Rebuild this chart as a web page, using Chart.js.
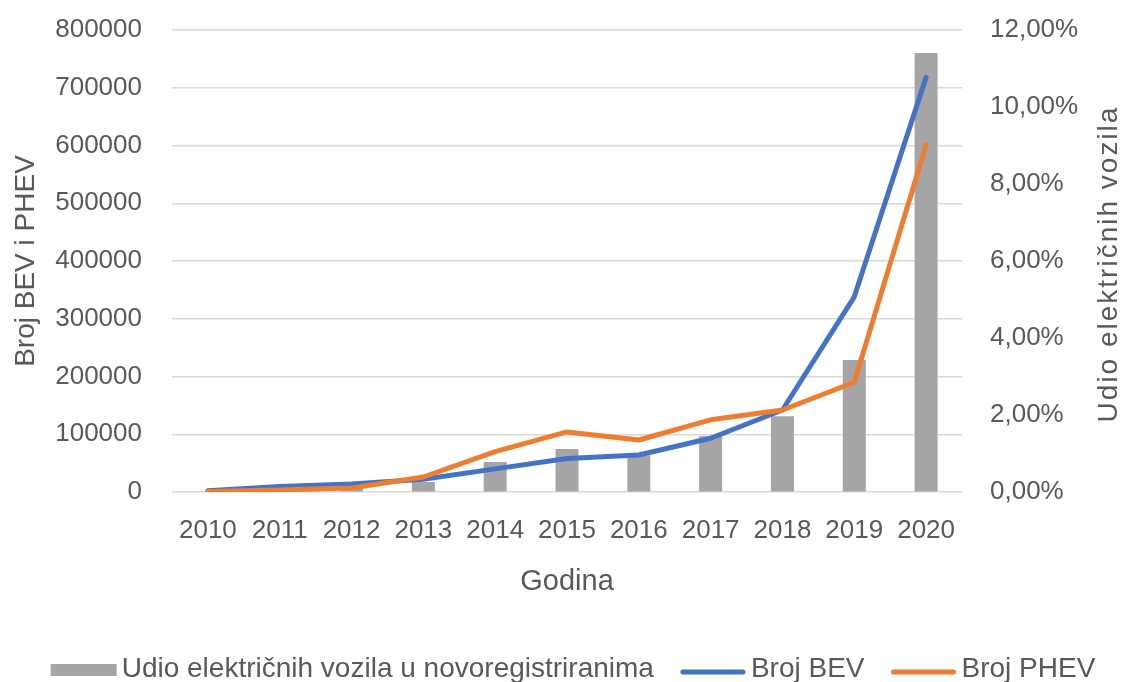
<!DOCTYPE html>
<html>
<head>
<meta charset="utf-8">
<script src="https://cdn.jsdelivr.net/npm/chart.js@4"></script>
<style>
html,body{margin:0;padding:0;background:#ffffff;}
#wrap{width:1126px;height:682px;position:relative;}
</style>
</head>
<body>
<div id="wrap"><canvas id="c" width="1126" height="682"></canvas></div>
<script>
// ---- data ----
const years = ['2010','2011','2012','2013','2014','2015','2016','2017','2018','2019','2020'];
const shareEV = [0.01, 0.03, 0.08, 0.26, 0.78, 1.12, 0.95, 1.45, 1.97, 3.43, 11.4]; // % of new registrations
const bevCount = [2000, 9500, 14000, 22000, 40000, 58000, 64000, 93000, 142000, 338000, 718000];
const phevCount = [1000, 3500, 7000, 26000, 70000, 104000, 90000, 125000, 142000, 190000, 601000];
const leftTickMax = 800000, leftTickStep = 100000;
const rightTickMax = 12, rightTickStep = 2;

const labelBar = 'Udio električnih vozila u novoregistriranima';
const labelBEV = 'Broj BEV';
const labelPHEV = 'Broj PHEV';
const titleLeft = 'Broj BEV i PHEV';
const titleRight = 'Udio električnih vozila';
const titleX = 'Godina';

const TXT = '#595959';
const GRID = '#D9D9D9';
const FONT = 'Liberation Sans';

const extras = {
  id: 'extras',
  afterDraw(chart) {
    const ctx = chart.ctx;
    const ca = chart.chartArea;
    // right axis title (reads bottom to top)
    ctx.save();
    ctx.fillStyle = TXT;
    ctx.font = '28px "' + FONT + '"';
    try { ctx.letterSpacing = '2px'; } catch (e) {}
    ctx.translate(chart.width - 17, (ca.top + ca.bottom) / 2 + 3);
    ctx.rotate(-Math.PI / 2);
    ctx.textAlign = 'center';
    ctx.textBaseline = 'middle';
    ctx.fillText(titleRight, 0, 0);
    ctx.restore();

    // legend
    ctx.save();
    ctx.font = '28px "' + FONT + '"';
    ctx.textBaseline = 'middle';
    ctx.textAlign = 'left';
    const items = [
      {t: labelBar, type: 'rect', c: '#A5A5A5'},
      {t: labelBEV, type: 'line', c: '#4472C4'},
      {t: labelPHEV, type: 'line', c: '#ED7D31'}
    ];
    const symW = 66, gap = 5, itemGap = 26;
    let total = 0;
    items.forEach((it, i) => { it.w = ctx.measureText(it.t).width; total += symW + gap + it.w + (i ? itemGap : 0); });
    let x = 573 - total / 2;
    const yc = 670;
    items.forEach((it, i) => {
      if (i) x += itemGap;
      if (it.type === 'rect') {
        ctx.fillStyle = it.c;
        ctx.fillRect(x, yc - 6, symW, 12);
      } else {
        ctx.strokeStyle = it.c;
        ctx.lineWidth = 5;
        ctx.lineCap = 'round';
        ctx.beginPath();
        ctx.moveTo(x + 3, yc + 2);
        ctx.lineTo(x + symW - 3, yc + 2);
        ctx.stroke();
      }
      x += symW + gap;
      ctx.fillStyle = TXT;
      ctx.fillText(it.t, x, yc - 1);
      x += it.w;
    });
    ctx.restore();
  }
};

new Chart(document.getElementById('c'), {
  data: {
    labels: years,
    datasets: [
      {
        type: 'line', label: labelPHEV, data: phevCount, yAxisID: 'yL',
        borderColor: '#ED7D31', backgroundColor: '#ED7D31', borderWidth: 5,
        pointRadius: 0, tension: 0, borderCapStyle: 'round', borderJoinStyle: 'round', order: 0
      },
      {
        type: 'line', label: labelBEV, data: bevCount, yAxisID: 'yL',
        borderColor: '#4472C4', backgroundColor: '#4472C4', borderWidth: 5,
        pointRadius: 0, tension: 0, borderCapStyle: 'round', borderJoinStyle: 'round', order: 1
      },
      {
        type: 'bar', label: labelBar, data: shareEV, yAxisID: 'yR',
        backgroundColor: '#A5A5A5', barPercentage: 0.32, categoryPercentage: 1, order: 2
      }
    ]
  },
  options: {
    responsive: false,
    animation: false,
    devicePixelRatio: 1,
    layout: { padding: { top: 30, bottom: 82, left: 0, right: 0 } },
    plugins: { legend: { display: false }, tooltip: { enabled: false } },
    scales: {
      x: {
        type: 'category',
        grid: { display: false, drawTicks: false },
        border: { display: false },
        ticks: { color: TXT, font: { family: FONT, size: 26 }, padding: 23, maxRotation: 0, autoSkip: false },
        title: { display: true, text: titleX, color: TXT, font: { family: FONT, size: 29 }, padding: { top: 0, bottom: 1 } },
        afterFit(s) { s.height = 108; }
      },
      yL: {
        type: 'linear', position: 'left', min: 0, max: leftTickMax,
        grid: { color: GRID, lineWidth: 1.5, drawTicks: true, tickLength: 20, tickColor: 'rgba(0,0,0,0)' },
        border: { display: false },
        ticks: { stepSize: leftTickStep, color: TXT, font: { family: FONT, size: 26 }, padding: 10,
                 callback: v => String(v) },
        title: { display: true, text: titleLeft, color: TXT, font: { family: FONT, size: 28 }, padding: { top: 9, bottom: 0 } },
        afterFit(s) { s.width = 172; }
      },
      yR: {
        type: 'linear', position: 'right', min: 0, max: rightTickMax,
        grid: { display: true, drawOnChartArea: false, drawTicks: true, tickLength: 18, tickColor: 'rgba(0,0,0,0)' },
        border: { display: false },
        ticks: { stepSize: rightTickStep, color: TXT, font: { family: FONT, size: 26 }, padding: 10,
                 callback: v => v.toFixed(2).replace('.', ',') + '%' },
        afterFit(s) { s.width = 164; }
      }
    }
  },
  plugins: [extras]
});
</script>
</body>
</html>
